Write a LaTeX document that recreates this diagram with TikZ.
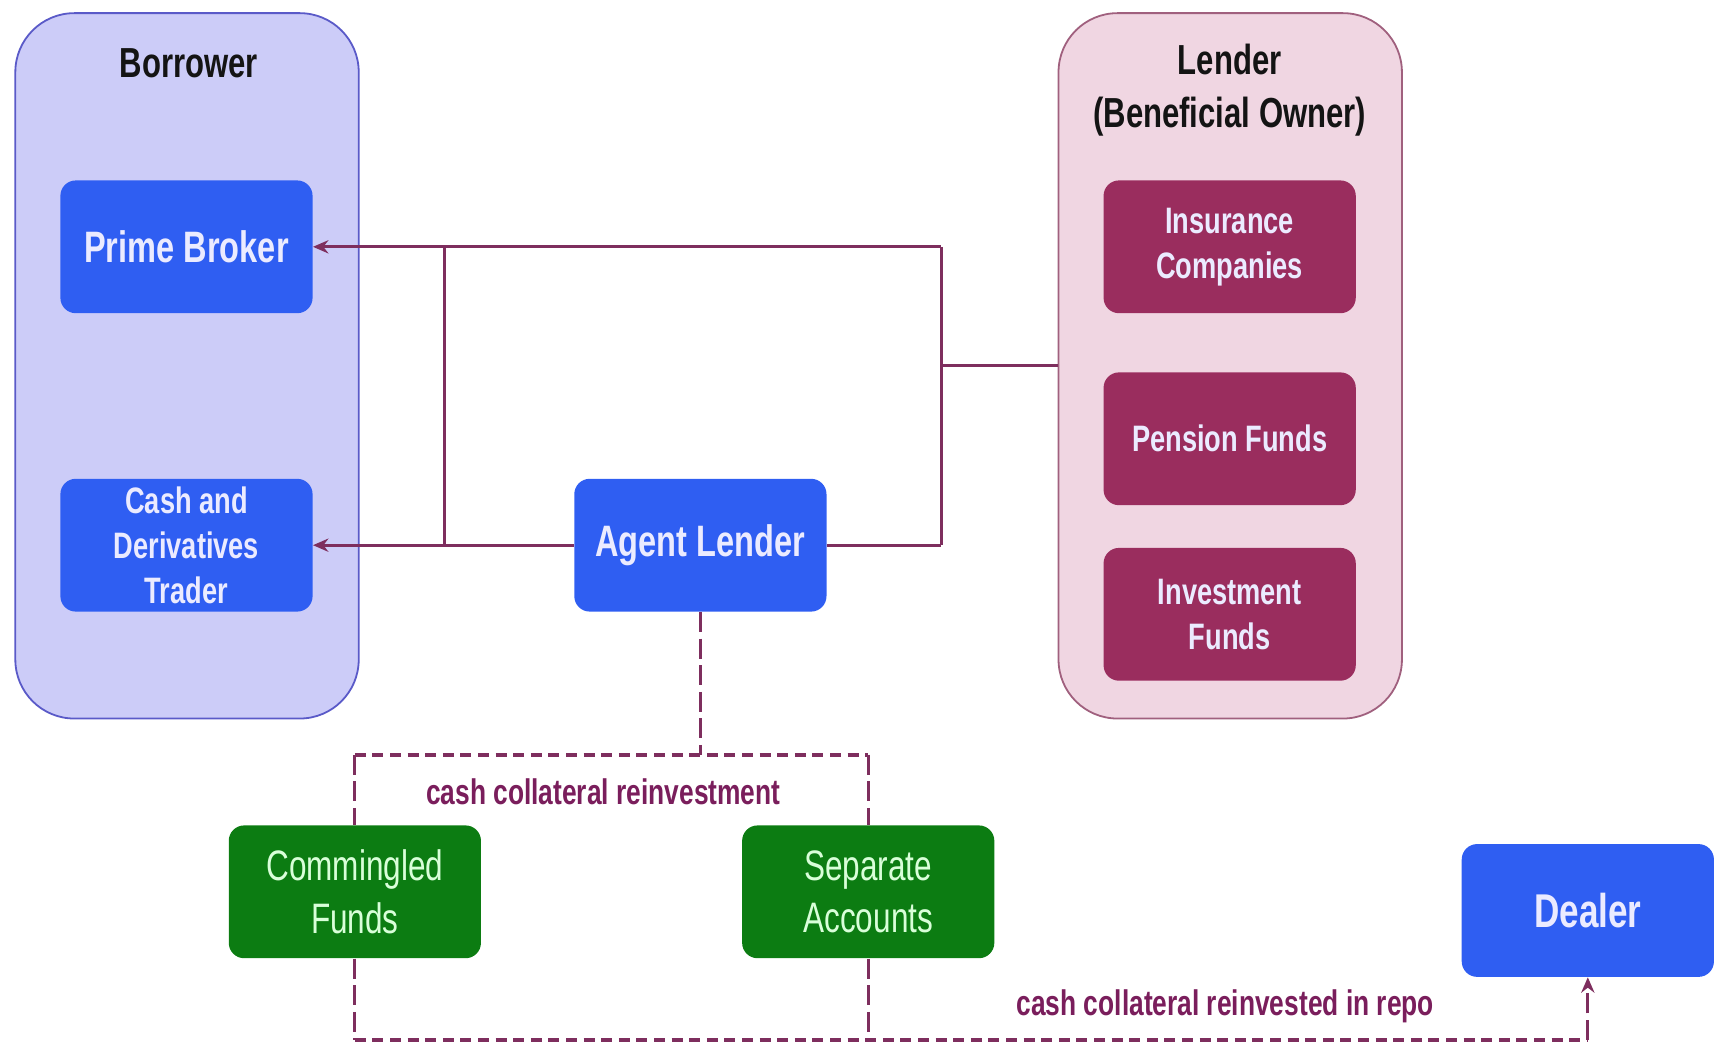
\documentclass[tikz,border=0pt]{standalone}
\usepackage{fontspec}
\setmainfont{Liberation Sans}
\newfontfamily\narrowfont[FakeStretch=0.74]{Liberation Sans}
\usetikzlibrary{arrows.meta,positioning}
\definecolor{borrowfill}{HTML}{CCCCF8}
\definecolor{borrowline}{HTML}{5A5AC8}
\definecolor{lendfill}{HTML}{F0D6E2}
\definecolor{lendline}{HTML}{A0607E}
\definecolor{bluebox}{HTML}{2F5EF2}
\definecolor{plumbox}{HTML}{9A2D5E}
\definecolor{greenbox}{HTML}{0C7C12}
\definecolor{flowline}{HTML}{7E2E5E}
\definecolor{notecol}{HTML}{7A1E5C}

\begin{document}
\begin{tikzpicture}[x=0.54847pt, y=-0.54847pt,
		groupbox/.style={draw, line width=0.9pt, rounded corners=29.5pt, minimum width=171.7pt, minimum height=352.7pt, inner sep=0pt},
		unit/.style={rounded corners=7.7pt, minimum width=126.1pt, minimum height=66.4pt, inner sep=0pt, align=center, text=white!92!blue},
		bigtext/.style={font=\narrowfont\bfseries\fontsize{22pt}{26pt}\selectfont},
		smalltext/.style={font=\narrowfont\bfseries\fontsize{18.4pt}{22.5pt}\selectfont},
		thintext/.style={font=\narrowfont\fontsize{21.3pt}{26.3pt}\selectfont, text=white!85!green},
		title/.style={font=\narrowfont\bfseries\fontsize{21pt}{26.3pt}\selectfont, align=center, text=black!92},
		flow/.style={draw=flowline, line width=1.65pt},
		dashflow/.style={draw=flowline, line width=2.2pt, dash pattern=on 5.5pt off 3.3pt},
		vdash/.style={dashflow, line width=1.4pt, dash pattern=on 10pt off 3.3pt},
		note/.style={font=\narrowfont\bfseries\fontsize{17.8pt}{20pt}\selectfont, text=notecol}
	]
			%%%%% START %%%%%
			\useasboundingbox (0,0) rectangle (1568,951.7);
			
			% the two groups
			\node[groupbox, draw=borrowline, fill=borrowfill] (borrower) at (170.5,333.5) {};
			\node[groupbox, draw=lendline, fill=lendfill] (lender) at (1121.5,333.5) {};
			\node[title] (borrowertitle) at (172,58) {Borrower};
			\node[title] (lendertitle) at (1121,82) {Lender\\(Beneficial Owner)};
			
			% borrower side
			\node[unit, fill=bluebox, bigtext] (prime) at (170,225) {Prime Broker};
			\node[unit, fill=bluebox, smalltext] (trader) at (170,497) {Cash and\\Derivatives\\Trader};
			\node[unit, fill=bluebox, bigtext] (agent) at (638.5,497) {Agent Lender};
			
			% lender side
			\node[unit, fill=plumbox, smalltext] (insurance) at (1121,225) {Insurance\\Companies};
			\node[unit, fill=plumbox, smalltext] (pension) at (1121,400) {Pension Funds};
			\node[unit, fill=plumbox, smalltext] (investment) at (1121,560) {Investment\\Funds};
			
			% reinvestment
			\node[unit, fill=greenbox, thintext] (commingled) at (323.5,813) {Commingled\\Funds};
			\node[unit, fill=greenbox, thintext] (separate) at (791.5,813) {Separate\\Accounts};
			\node[unit, fill=bluebox, font=\narrowfont\bfseries\fontsize{23.7pt}{27pt}\selectfont] (dealer) at (1447.5,830) {Dealer};
			
			% solid connectors
			\coordinate (jmid) at (858,333.5);
			\coordinate (jtop) at (858,225);
			\coordinate (jbot) at (858,497);
			\coordinate (ltop) at (405,225);
			\coordinate (lbot) at (405,497);
			\draw[flow] (lender.west) -- (jmid);
			\draw[flow] (jtop) -- (jbot);
			\draw[flow, -{Stealth[length=7.7pt, width=6.6pt]}] (jtop) -- (prime.east);
			\draw[flow] (agent.east) -- (jbot);
			\draw[flow, -{Stealth[length=7.7pt, width=6.6pt]}] (agent.west) -- (trader.east);
			\draw[flow] (ltop) -- (lbot);
			
			% dashed connectors
			\coordinate (dtop) at (636,688);
			\coordinate (dbot) at (0,948);
			\draw[vdash] (agent.south) -- (agent.south |- dtop);
			\draw[dashflow] (commingled.north |- dtop) -- (separate.north |- dtop);
			\draw[vdash] (commingled.north |- dtop) -- (commingled.north);
			\draw[vdash] (separate.north |- dtop) -- (separate.north);
			\draw[vdash] (commingled.south) -- (commingled.south |- dbot);
			\draw[vdash] (separate.south) -- (separate.south |- dbot);
			\draw[dashflow] (commingled.south |- dbot) -- (dealer.south |- dbot);
			\draw[vdash, -{Stealth[length=7.7pt, width=6.6pt]}] (dealer.south |- dbot) -- (dealer.south);
			
			\node[note] (reinvestnote) at (550,722) {cash collateral reinvestment};
			\node[note] (reponote) at (1117,917) {cash collateral reinvested in repo};
			
			%%%%% END %%%%%
		\end{tikzpicture}
\end{document}
